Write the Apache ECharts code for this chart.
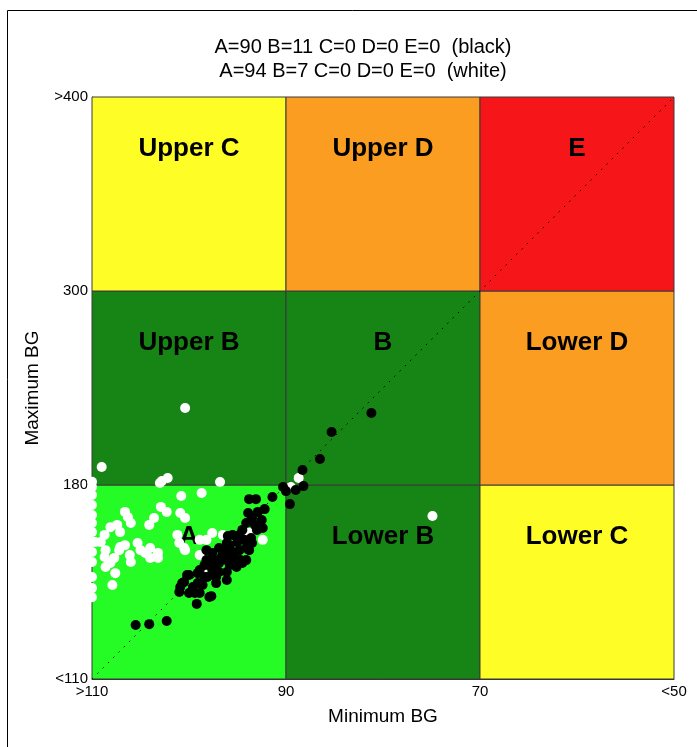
<!DOCTYPE html>
<html>
<head>
<meta charset="utf-8">
<script src="https://cdn.jsdelivr.net/npm/echarts@6/dist/echarts.min.js"></script>
<style>
html,body{margin:0;padding:0;background:#fff;}
#chart{width:697px;height:747px;}
</style>
</head>
<body>
<div id="chart"></div>
<script>
// ---- data ----
var titleLines = ['A=90 B=11 C=0 D=0 E=0  (black)', 'A=94 B=7 C=0 D=0 E=0  (white)'];
var xTicks = [110, 90, 70, 50];                 // minimum BG (reversed axis)
var xTickLabels = ['>110', '90', '70', '<50'];
var yKnots = [110, 180, 300, 400];              // maximum BG zone boundaries
var yTickLabels = ['<110', '180', '300', '>400'];
var zoneNames = [
  ['A', 'Lower B', 'Lower C'],
  ['Upper B', 'B', 'Lower D'],
  ['Upper C', 'Upper D', 'E']
];
var zoneColors = [
  ['#25FC25', '#178516', '#FEFE26'],
  ['#178516', '#178516', '#FA9D20'],
  ['#FEFE26', '#FA9D20', '#F61518']
];
// [min BG, max BG]
var blackPoints = [
  [81.2,224.5],[85.3,212.8],[86.5,196.1],[88.3,189.3],[88.2,179.6],[89.0,178.2],[90.3,179.3],[90.0,177.8],
  [89.6,173.1],[91.4,175.7],[93.1,174.9],[93.8,174.9],[92.2,171.3],[93.9,169.9],[93.5,168.1],[92.5,167.4],
  [94.1,166.3],[93.0,163.8],[92.4,164.5],[94.5,163.8],[95.5,162.0],[96.0,161.6],[93.6,160.9],[95.0,159.4],
  [96.1,159.1],[93.5,159.1],[94.1,157.3],[96.9,157.3],[98.2,156.5],[95.5,155.8],[97.6,155.5],[96.0,156.5],
  [93.8,156.5],[94.1,152.9],[96.1,152.9],[96.9,151.9],[98.2,152.9],[94.7,152.9],[95.1,150.4],[97.6,149.3],
  [98.9,149.3],[96.1,148.6],[100.0,147.5],[98.4,146.8],[97.2,146.8],[97.2,150.4],[94.5,151.9],[100.2,147.5],
  [99.1,148.2],[98.1,146.8],[96.1,145.7],[100.7,144.6],[99.6,143.2],[98.6,143.9],[97.2,144.6],[101.0,141.4],
  [100.0,141.0],[98.9,141.0],[97.7,139.9],[99.2,137.1],[102.3,130.9],[104.1,129.8],[105.5,129.5],[100.9,143.2],
  [100.5,145.0],[99.1,144.6],[99.4,141.0],[97.9,139.6],[95.8,158.3],[94.8,156.5],[95.3,153.7],[96.6,154.4],
  [97.4,152.9],[94.3,160.2],[94.8,162.0],[93.2,165.6],[92.9,170.3],[95.8,151.1],[97.9,151.1],[96.9,148.6],
  [98.4,151.1],[96.3,154.7]
];
var whitePoints = [
  [100.4,227.6],[109.0,191.1],[102.8,182.5],[102.2,184.3],[103.0,181.2],[96.8,181.9],[88.7,184.3],[74.9,168.8],
  [89.5,179.3],
  [110,182.0],[110,179.3],[110,176.4],[110,172.8],[110,169.2],[110,166.3],[110,163.0],[110,159.4],[110,155.8],
  [110,152.2],[110,146.8],[110,142.8],[110,139.5],
  [100.8,176.0],[102.9,172.1],[102.3,170.3],[106.6,170.3],[106.3,168.4],[106.0,166.3],[103.6,168.1],[104.1,165.6],
  [100.9,169.9],[100.4,168.1],[107.4,165.6],[108.1,164.8],[107.1,163.0],[108.7,162.0],[109.1,159.4],[109.7,159.4],
  [106.6,158.3],[107.2,156.5],[105.3,159.1],[105.0,156.5],[104.5,155.5],[104.0,157.3],[103.2,155.5],[101.2,162.0],
  [101.0,159.1],[100.4,156.5],[104.0,153.7],[103.2,153.7],[106.1,154.7],[106.0,152.2],[108.1,151.9],[108.7,154.0],
  [108.6,156.5],[107.1,157.6],[107.7,153.7],[108.6,150.4],[107.6,148.2],[107.9,143.9],[98.7,177.1],[97.6,162.7],
  [96.5,162.0],[93.8,162.7],[92.4,160.2],[98.2,160.2],[98.9,160.2],[100.5,157.3],[98.9,154.7],[98.4,149.3]
];

// piecewise-linear max-BG scale: each zone band is one unit
function yToGrid(v) {
  for (var i = 0; i < yKnots.length - 1; i++) {
    if (v <= yKnots[i + 1] || i === yKnots.length - 2) {
      var t = (v - yKnots[i]) / (yKnots[i + 1] - yKnots[i]);
      return Math.max(0, Math.min(3, i + t));
    }
  }
}
function clampX(v) { return Math.max(xTicks[xTicks.length - 1], Math.min(xTicks[0], v)); }
function toXY(p) { return [clampX(p[0]), yToGrid(p[1])]; }

var FONT = 'Liberation Sans, Arial, Helvetica, sans-serif';

var areas = [];
for (var r = 0; r < 3; r++) {
  for (var c = 0; c < 3; c++) {
    areas.push([
      { name: zoneNames[r][c], xAxis: xTicks[c], yAxis: r,
        itemStyle: { color: zoneColors[r][c], borderColor: '#3a3a3a', borderWidth: 1, opacity: 1 } },
      { xAxis: xTicks[c + 1], yAxis: r + 1 }
    ]);
  }
}

var chart = echarts.init(document.getElementById('chart'), null, { renderer: 'canvas' });
chart.setOption({
  animation: false,
  backgroundColor: '#fff',
  textStyle: { fontFamily: FONT },
  graphic: [
    { type: 'rect', shape: { x: 7.5, y: 10.5, width: 760, height: 800 },
      style: { fill: 'none', stroke: '#000', lineWidth: 1 }, z: 0 },
    { type: 'text', x: 363, y: 47, style: { text: titleLines[0], fontSize: 20, fontFamily: FONT,
      fill: '#000', textAlign: 'center', textVerticalAlign: 'middle' }, z: 10 },
    { type: 'text', x: 363, y: 71, style: { text: titleLines[1], fontSize: 20, fontFamily: FONT,
      fill: '#000', textAlign: 'center', textVerticalAlign: 'middle' }, z: 10 }
  ],
  grid: { left: 92, right: 23, top: 97, bottom: 68 },
  xAxis: {
    type: 'value', inverse: true, min: xTicks[3], max: xTicks[0], interval: 20,
    name: 'Minimum BG', nameLocation: 'middle', nameGap: 28,
    nameTextStyle: { fontSize: 19, color: '#000', fontFamily: FONT },
    axisLine: { show: true, lineStyle: { color: '#333' } },
    axisTick: { show: false },
    splitLine: { show: false },
    axisLabel: { color: '#000', fontSize: 15, margin: 5, fontFamily: FONT,
      formatter: function (v) { var i = xTicks.indexOf(v); return i >= 0 ? xTickLabels[i] : ''; } }
  },
  yAxis: {
    type: 'value', min: 0, max: 3, interval: 1,
    name: 'Maximum BG', nameLocation: 'middle', nameGap: 50,
    nameTextStyle: { fontSize: 19, color: '#000', fontFamily: FONT },
    axisLine: { show: true, lineStyle: { color: '#333' } },
    axisTick: { show: false },
    splitLine: { show: false },
    axisLabel: { color: '#000', fontSize: 15, margin: 4, fontFamily: FONT,
      formatter: function (v) { return yTickLabels[v] || ''; } }
  },
  series: [
    { type: 'line', data: [], z: 1, silent: true,
      markArea: { silent: true, data: areas,
        label: { show: true, position: 'insideTop', distance: 37, color: '#000', fontSize: 26,
          fontWeight: 'bold', lineHeight: 30, fontFamily: FONT } } },
    { type: 'line', z: 2, silent: true, symbol: 'none',
      data: [[xTicks[0], 0], [xTicks[3], 3]],
      lineStyle: { color: '#000', width: 1, type: [1.5, 6] } },
    { type: 'scatter', z: 3, symbolSize: 10, silent: true,
      itemStyle: { color: '#ffffff', opacity: 1 }, data: whitePoints.map(toXY) },
    { type: 'scatter', z: 4, symbolSize: 10, silent: true,
      itemStyle: { color: '#000000', opacity: 1 }, data: blackPoints.map(toXY) }
  ]
});
</script>
</body>
</html>
